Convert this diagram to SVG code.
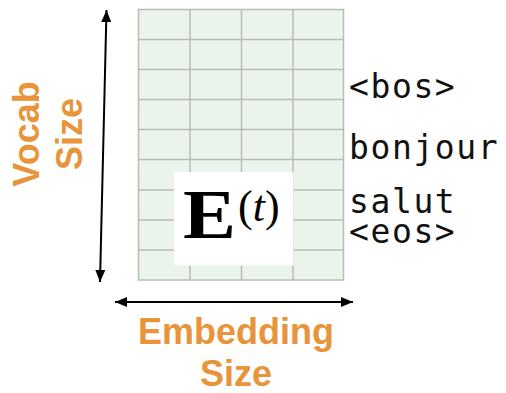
<svg xmlns="http://www.w3.org/2000/svg" width="506" height="393" viewBox="0 0 506 393">
<defs>
<marker id="ah" viewBox="0 0 12 10" refX="12" refY="5" markerWidth="12" markerHeight="10" markerUnits="userSpaceOnUse" orient="auto-start-reverse">
<path d="M0,0 L12,5 L0,10 z" fill="#000"/>
</marker>
<style>
.grid{stroke:#b9bcb6;stroke-width:1.5;fill:none}
.axis{font-family:"Liberation Sans",Arial,sans-serif;font-weight:bold;font-size:36px;fill:#e8943a}
.tok{font-family:"DejaVu Sans Mono","Liberation Mono",monospace;font-size:33px;fill:#111;letter-spacing:1.6px}
.conn{stroke:#000;stroke-width:2;fill:none}
</style>
</defs>
<rect width="506" height="393" fill="#fff"/>
<g id="matrix">
<rect x="138.5" y="9.5" width="205" height="270.5" fill="#ebf4ea"/>
<path class="grid" d="M190,9.5V280 M241.5,9.5V280 M293,9.5V280 M138.5,39.5H343.5 M138.5,69.5H343.5 M138.5,99.5H343.5 M138.5,129.5H343.5 M138.5,159.5H343.5 M138.5,190H343.5 M138.5,220H343.5 M138.5,250H343.5"/>
<rect class="grid" x="138.5" y="9.5" width="205" height="270.5"/>
</g>
<g id="label-E">
<rect x="174" y="172" width="119.5" height="93.5" fill="#fff"/>
<text x="183" y="238" font-family="'Liberation Serif','Times New Roman',serif" font-weight="bold" font-size="70" fill="#000" textLength="53" lengthAdjust="spacingAndGlyphs">E</text>
<text x="238" y="221" font-family="'Liberation Serif','Times New Roman',serif" font-size="44" fill="#000">(<tspan font-style="italic">t</tspan>)</text>
</g>
<g id="connectors">
<line class="conn" x1="106.5" y1="10" x2="100" y2="282" marker-start="url(#ah)" marker-end="url(#ah)"/>
<line class="conn" x1="115" y1="302" x2="353" y2="302" marker-start="url(#ah)" marker-end="url(#ah)"/>
</g>
<g id="vocab-label">
<text class="axis" transform="translate(39,134) rotate(-90)" text-anchor="middle">Vocab</text>
<text class="axis" transform="translate(82,134) rotate(-90)" text-anchor="middle">Size</text>
</g>
<g id="embedding-label">
<text class="axis" x="236" y="344" text-anchor="middle">Embedding</text>
<text class="axis" x="236" y="386" text-anchor="middle">Size</text>
</g>
<g id="tokens">
<text class="tok" x="349" y="98">&lt;bos&gt;</text>
<text class="tok" x="349" y="159">bonjour</text>
<text class="tok" x="349" y="213">salut</text>
<text class="tok" x="349" y="243">&lt;eos&gt;</text>
</g>
</svg>
